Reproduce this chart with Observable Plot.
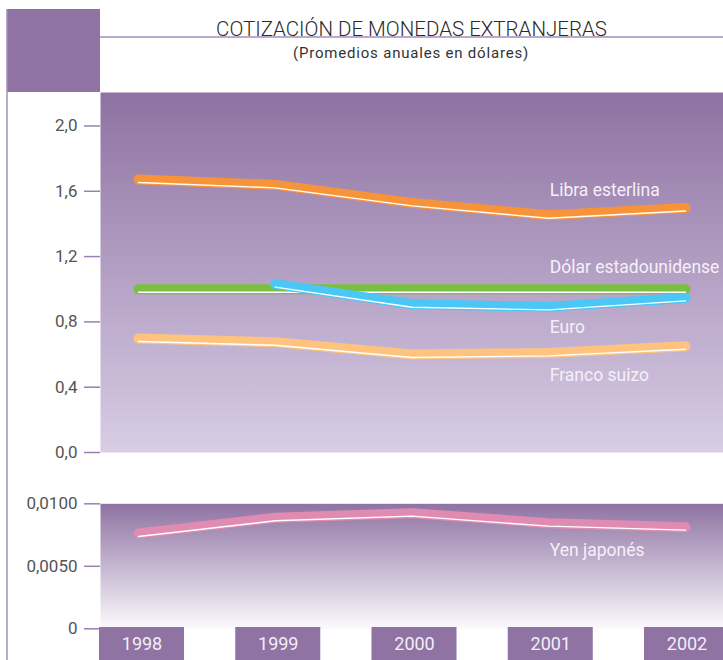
<!DOCTYPE html>
<html><head><meta charset="utf-8">
<script src="https://cdn.jsdelivr.net/npm/d3@7"></script>
<script src="https://cdn.jsdelivr.net/npm/@observablehq/plot@0.6"></script>
<style>
html,body{margin:0;padding:0;background:#fff;}
#chart{position:relative;width:723px;height:660px;overflow:hidden;font-family:Roboto,sans-serif;}
#chart > svg{position:absolute;left:0;margin:0;}
</style></head><body><div id="chart"></div>
<script>
// ---- data ----
const years = [1998, 1999, 2000, 2001, 2002];
const libraEsterlina = [1.672, 1.639, 1.529, 1.453, 1.498];
const dolarEstadounidense = [1.0, 1.0, 1.0, 1.0, 1.0];
const euro = [null, 1.031, 0.908, 0.892, 0.947];
const francoSuizo = [0.698, 0.675, 0.600, 0.610, 0.651];
const yenJapones = [0.00762, 0.00888, 0.00925, 0.00845, 0.00813];
const seriesNames = ["Libra esterlina", "Dólar estadounidense", "Euro", "Franco suizo", "Yen japonés"];
const upperTicks = [0, 0.4, 0.8, 1.2, 1.6, 2.0];
const upperTickLabels = ["0,0", "0,4", "0,8", "1,2", "1,6", "2,0"];
const lowerTicks = [0, 0.005, 0.01];
const lowerTickLabels = ["0", "0,0050", "0,0100"];
const labelYear = 2001;
const titleText = "COTIZACIÓN DE MONEDAS EXTRANJERAS";
const subtitleText = "(Promedios anuales en dólares)";

// ---- styles ----
const PURPLE = "#8f73a3";
const LINEPURPLE = "#a48eb8";
const TICKCOL = "#9a80b0";
const TEXTGRAY = "#555";
const LABELCOL = "#f5f0f8";
const style = {
  "Libra esterlina": {color: "#f7943a", dy: -19},
  "Dólar estadounidense": {color: "#7bbf42", dy: -16},
  "Euro": {color: "#4ac7f4", dy: 26},
  "Franco suizo": {color: "#fec47f", dy: 28},
  "Yen japonés": {color: "#e08bb2", dy: 33}
};

function rows(name, values) {
  return years.map((year, i) => ({name, year, value: values[i]})).filter(d => d.value != null);
}
const upperSeries = [
  rows(seriesNames[0], libraEsterlina),
  rows(seriesNames[1], dolarEstadounidense),
  rows(seriesNames[2], euro),
  rows(seriesNames[3], francoSuizo)
];
const lowerSeries = [rows(seriesNames[4], yenJapones)];

const chart = document.getElementById("chart");

// ---- background / header ----
const bg = d3.select(chart).append("svg").attr("width", 723).attr("height", 660).style("top", "0px");
const defs = bg.append("defs");
const g1 = defs.append("linearGradient").attr("id", "gradUpper").attr("x1", 0).attr("y1", 0).attr("x2", 0).attr("y2", 1);
g1.append("stop").attr("offset", "0%").attr("stop-color", "#8e72a2");
g1.append("stop").attr("offset", "100%").attr("stop-color", "#d8cde5");
const g2 = defs.append("linearGradient").attr("id", "gradLower").attr("x1", 0).attr("y1", 0).attr("x2", 0).attr("y2", 1);
g2.append("stop").attr("offset", "0%").attr("stop-color", "#8f73a3");
g2.append("stop").attr("offset", "100%").attr("stop-color", "#fbfafd");

bg.append("rect").attr("x", 7).attr("y", 9).attr("width", 93).attr("height", 83).attr("fill", PURPLE);
bg.append("line").attr("x1", 7).attr("x2", 7).attr("y1", 9).attr("y2", 660).attr("stroke", LINEPURPLE).attr("stroke-width", 1.5);
bg.append("line").attr("x1", 100).attr("x2", 723).attr("y1", 37).attr("y2", 37).attr("stroke", LINEPURPLE).attr("stroke-width", 1.5);
bg.append("text").attr("x", 411.5).attr("y", 36).attr("text-anchor", "middle")
  .attr("font-family", "Roboto").attr("font-weight", 300).attr("font-size", 20.5).attr("fill", "#2a2a2a").text(titleText);
bg.append("text").attr("x", 411).attr("y", 58).attr("text-anchor", "middle")
  .attr("font-family", "Roboto").attr("font-size", 15).attr("letter-spacing", "0.8px").attr("fill", "#333").text(subtitleText);

const plotStyle = {background: "transparent", fontFamily: "Roboto", overflow: "visible"};
const xLines = {domain: [1997.7221, 2002.2779], axis: null};

function seriesMarks(list) {
  const m = [];
  for (const s of list) {
    const st = style[s[0].name];
    m.push(Plot.line(s, {x: "year", y: "value", stroke: st.color, strokeWidth: 10, strokeLinecap: "round", strokeLinejoin: "round"}));
    m.push(Plot.line(s, {x: "year", y: "value", stroke: "#ffffff", strokeWidth: 1.4, dy: 3, strokeLinecap: "round", strokeLinejoin: "round"}));
  }
  for (const s of list) {
    const st = style[s[0].name];
    m.push(Plot.text(s.filter(d => d.year === labelYear), {
      x: "year", y: "value", text: "name", dy: st.dy, dx: 1,
      fill: LABELCOL, fontSize: 17.5, textAnchor: "start", lineAnchor: "bottom"
    }));
  }
  return m;
}

// ---- upper panel ----
const upper = Plot.plot({
  width: 723, height: 370,
  marginLeft: 100, marginRight: 0, marginTop: 0, marginBottom: 10,
  style: plotStyle,
  x: xLines,
  y: {domain: [0, 2.205], label: null},
  marks: [
    Plot.frame({fill: "url(#gradUpper)", stroke: "none"}),
    Plot.axisY(upperTicks, {
      tickSize: 16, tickPadding: 7, strokeWidth: 1.5,
      tickFormat: d => upperTickLabels[upperTicks.indexOf(d)],
      stroke: TICKCOL, fill: TEXTGRAY, fontSize: 17, label: null
    }),
    ...seriesMarks(upperSeries)
  ]
});
upper.style.position = "absolute"; upper.style.top = "92px"; upper.style.left = "0px";
chart.appendChild(upper);

// ---- lower panel ----
const lower = Plot.plot({
  width: 723, height: 150,
  marginLeft: 100, marginRight: 0, marginTop: 13.3, marginBottom: 11.7,
  style: plotStyle,
  x: xLines,
  y: {domain: [0, 0.01], label: null},
  marks: [
    Plot.frame({fill: "url(#gradLower)", stroke: "none"}),
    Plot.axisY(lowerTicks, {
      tickSize: 16, tickPadding: 7, strokeWidth: 1.5,
      tickFormat: d => lowerTickLabels[lowerTicks.indexOf(d)],
      stroke: TICKCOL, fill: TEXTGRAY, fontSize: 17, label: null
    }),
    ...seriesMarks(lowerSeries)
  ]
});
lower.style.position = "absolute"; lower.style.top = "490px"; lower.style.left = "0px";
chart.appendChild(lower);

// ---- year strip ----
const strip = Plot.plot({
  width: 723, height: 33,
  marginLeft: 100, marginRight: 0, marginTop: 0, marginBottom: 0,
  style: plotStyle,
  x: {domain: [1997.6954, 2002.2679], axis: null},
  marks: [
    Plot.rect(years, {x1: d => d - 0.312, x2: d => d + 0.312, fill: PURPLE}),
    Plot.text(years, {x: d => d, text: d => String(d), frameAnchor: "middle", fill: "#f3eef7", fontSize: 18})
  ]
});
strip.style.position = "absolute"; strip.style.top = "627px"; strip.style.left = "0px";
chart.appendChild(strip);
</script></body></html>
